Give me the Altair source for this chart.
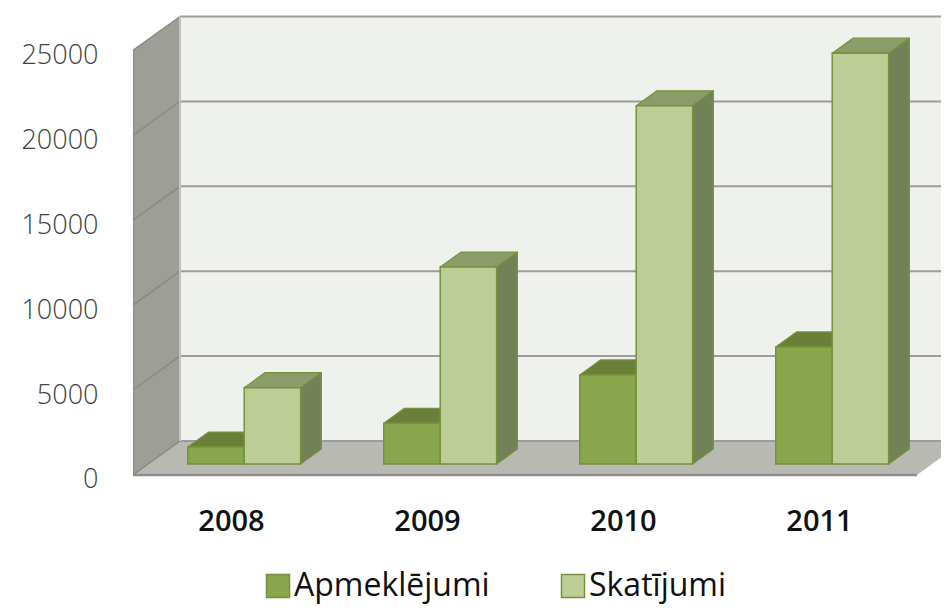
import altair as alt
import pandas as pd

# ---- data ----
years = ["2008", "2009", "2010", "2011"]
series = ["Apmeklējumi", "Skatījumi"]
apmeklejumi = [1000, 2400, 5250, 6900]
skatijumi = [4500, 11600, 21100, 24200]
y_ticks = [0, 5000, 10000, 15000, 20000, 25000]

# ---- styling ----
front_colors = ["#8aa64c", "#bccd95"]
top_colors = ["#6b7f38", "#8c9b6a"]
side_colors = ["#5f7330", "#738159"]
edge_color = "#76923c"

# ---- 3D layout parameters (in scale units) ----
N = len(years)
Y_MAX = y_ticks[-1]
DX, DY = 0.24, 2000.0          # full depth of the box
F0, FB = 0.32, 0.44            # bar front depth / bar depth (fractions)
BAR_W, BAR_START = 0.288, 0.2026
X_DOMAIN = [0, 808 / 196]
Y_DOMAIN = [-300, 27500]

xs = alt.Scale(domain=X_DOMAIN, nice=False, zero=False)
ys = alt.Scale(domain=Y_DOMAIN, nice=False, zero=False)

y_axis = alt.Axis(values=y_ticks, format="d", domain=False, ticks=False, tickSize=0,
                  grid=False, labelPadding=35, labelFont="Open Sans", labelFontSize=27,
                  labelFontWeight=300, labelColor="#404040", title=None, labelOffset=5)
x_axis = alt.Axis(values=[i + 0.5 for i in range(N)],
                  labelExpr="[" + ",".join(f"'{y}'" for y in years) + "][floor(datum.value)]",
                  domain=False, ticks=False, tickSize=0, grid=False, labelPadding=27,
                  labelFont="Open Sans", labelFontSize=29, labelFontWeight=600,
                  labelColor="#111111", title=None, labelOverlap=False, labelFlush=False)


def X(f):
    return alt.X(f, type="quantitative", scale=xs, axis=x_axis)


def Y(f):
    return alt.Y(f, type="quantitative", scale=ys, axis=y_axis, stack=None)


# ---- bar faces built from the values ----
front_rows, top_rows, side_rows = [], [], []
for j, (name, vals) in enumerate(zip(series, [apmeklejumi, skatijumi])):
    for i, v in enumerate(vals):
        bar = f"{name}-{years[i]}"
        x0 = i + BAR_START + j * BAR_W + F0 * DX
        x1 = x0 + BAR_W
        yb = F0 * DY
        yt = v + yb
        dx, dy = FB * DX, FB * DY
        front_rows.append(dict(series=name, bar=bar, x0=x0, x1=x1, yb=yb, yt=yt))
        top_rows += [dict(series=name, bar=bar, y=yt, xa=x0, xb=x1),
                     dict(series=name, bar=bar, y=yt + dy, xa=x0 + dx, xb=x1 + dx)]
        side_rows += [dict(series=name, bar=bar, x=x1, y=yt, y2=yb),
                      dict(series=name, bar=bar, x=x1 + dx, y=yt + dy, y2=yb + dy)]
front_df = pd.DataFrame(front_rows)
top_df = pd.DataFrame(top_rows)
side_df = pd.DataFrame(side_rows)

# ---- walls ----
back_wall = alt.Chart(pd.DataFrame([dict(x=DX, x2=N + DX, y=DY, y2=Y_MAX + DY)])).mark_rect(
    fill="#eff1ec", clip=True).encode(x=X("x"), x2="x2", y=Y("y"), y2="y2")

side_wall = alt.Chart(pd.DataFrame([dict(x=0, y=Y_MAX, y2=0),
                                    dict(x=DX, y=Y_MAX + DY, y2=DY)])).mark_area(
    orient="vertical", fill="#9d9e98").encode(x=X("x"), y=Y("y"), y2="y2")

floor = alt.Chart(pd.DataFrame([dict(y=0, xa=0, xb=N),
                                dict(y=DY, xa=DX, xb=N + DX)])).mark_area(
    orient="horizontal", fill="#b8b9b3", clip=True).encode(y=Y("y"), x=X("xa"), x2="xb")

grid_df = pd.DataFrame([dict(v=v, yb=v + DY, xa=0, xd=DX, xe=N + DX) for v in y_ticks])
back_grid = alt.Chart(grid_df).mark_rule(color="#9c9c9c", strokeWidth=2, clip=True).encode(
    x=X("xd"), x2="xe", y=Y("yb"))
side_grid = alt.Chart(grid_df).mark_rule(color="#8a8b86", strokeWidth=1.5).encode(
    x=X("xa"), y=Y("v"), x2="xd", y2="yb")

edges_df = pd.DataFrame([dict(xa=0, xb=0, ya=0, yb=Y_MAX),
                         dict(xa=0, xb=N, ya=0, yb=0)])
edges = alt.Chart(edges_df).mark_rule(color="#8e8e8e", strokeWidth=2.5, clip=True).encode(
    x=X("xa"), x2="xb", y=Y("ya"), y2="yb")
back_edge = alt.Chart(pd.DataFrame([dict(x=DX, ya=DY, yb=Y_MAX + DY)])).mark_rule(
    color="#c4c5c0", strokeWidth=2).encode(x=X("x"), y=Y("ya"), y2="yb")

legend = alt.Legend(title=None, orient="none", legendX=129, legendY=562,
                    direction="horizontal", symbolType="square", symbolSize=529,
                    symbolStrokeColor=edge_color, symbolStrokeWidth=1.5,
                    labelFontSize=32, labelFont="Open Sans", labelColor="#111111",
                    labelOffset=0, columnPadding=67, padding=0, labelLimit=500,
                    symbolOpacity=1)
color = alt.Color("series:N", scale=alt.Scale(domain=series, range=front_colors), legend=legend)

bar_layers = []
for j, name in enumerate(series):
    flt = alt.datum.series == name
    bar_layers.append(alt.Chart(top_df).transform_filter(flt).mark_area(
        orient="horizontal", fill=top_colors[j], stroke=edge_color, strokeWidth=1.2,
        strokeJoin="round").encode(y=Y("y"), x=X("xa"), x2="xb", detail="bar:N"))
    bar_layers.append(alt.Chart(side_df).transform_filter(flt).mark_area(
        orient="vertical", fill=side_colors[j], stroke=edge_color, strokeWidth=1.2,
        strokeJoin="round").encode(x=X("x"), y=Y("y"), y2="y2", detail="bar:N"))
    bar_layers.append(alt.Chart(front_df).transform_filter(flt).mark_rect(
        stroke=edge_color, strokeWidth=1.5, opacity=1).encode(
        x=X("x0"), x2="x1", y=Y("yb"), y2="yt", color=color))

chart = alt.layer(back_wall, side_wall, floor, back_grid, side_grid, back_edge, edges,
                  *bar_layers).properties(
    width=808, height=472, autosize="none",
    padding={"left": 125, "top": 0, "right": 0, "bottom": 124},
    background="white",
).configure_view(stroke=None)

chart.save("out.html", embed_options={"renderer": "svg", "actions": False})
